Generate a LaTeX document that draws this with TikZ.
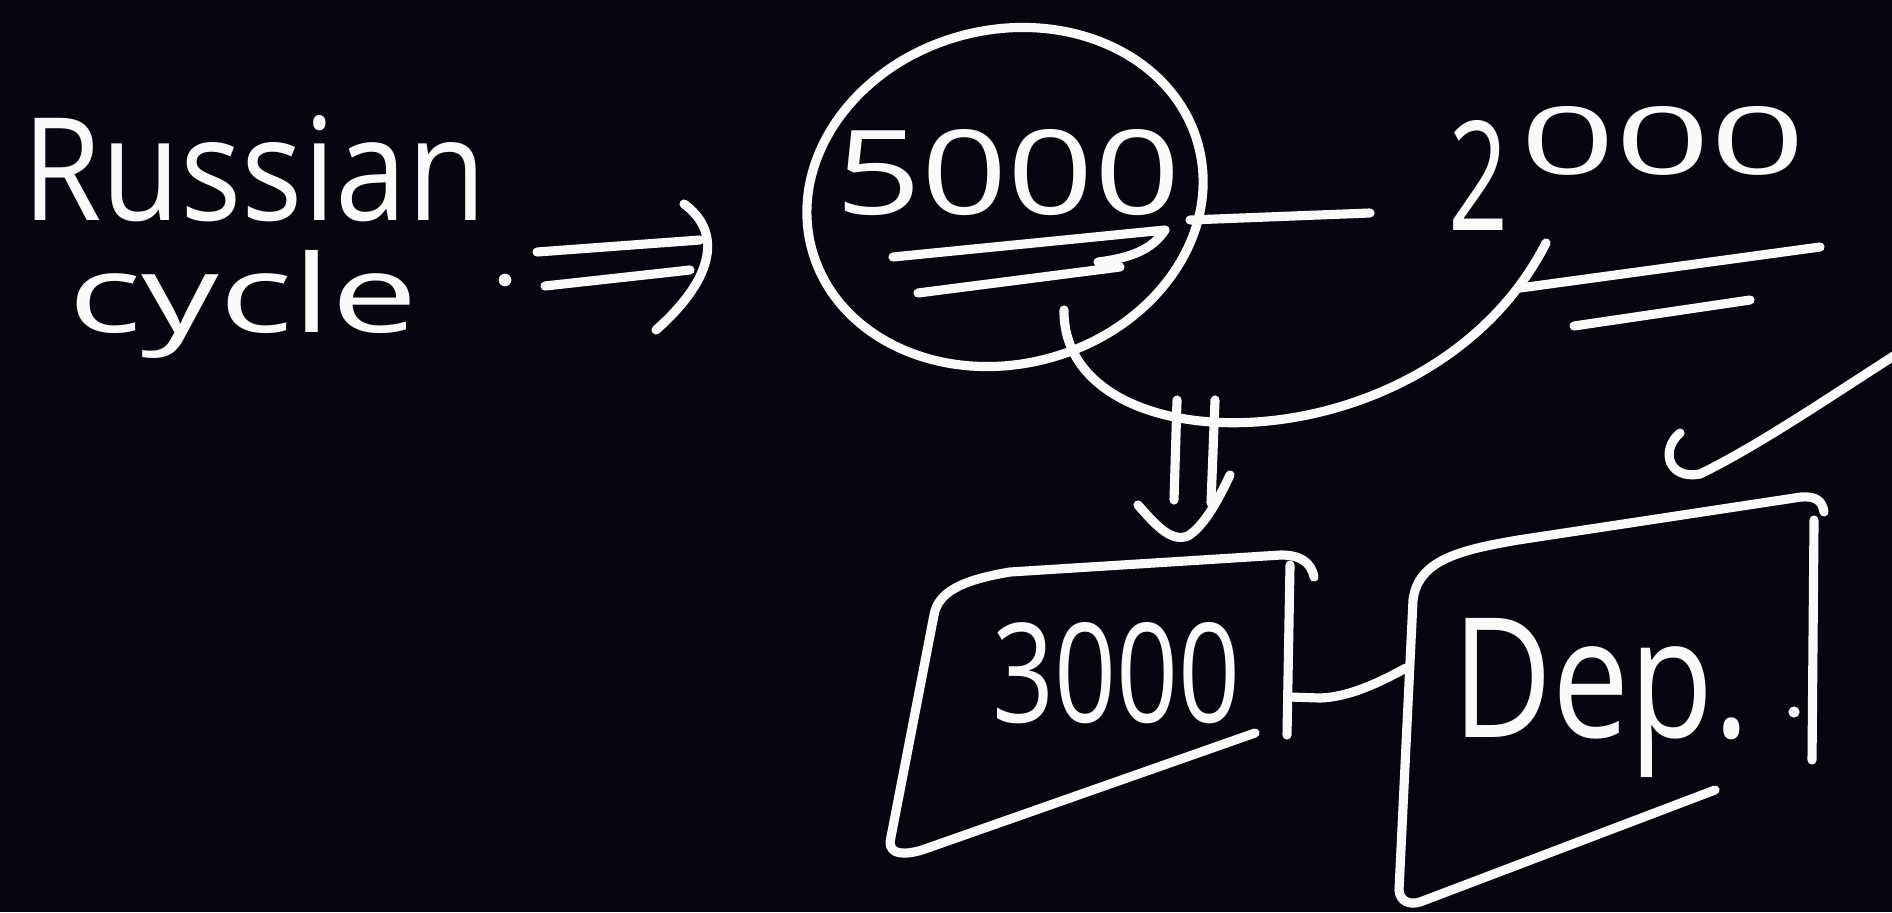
\documentclass[tikz,border=0pt]{standalone}
\usepackage{fontspec}
\usepackage{graphicx}
\setmainfont{Open Sans}
\definecolor{board}{RGB}{6,6,16}
\definecolor{chalk}{RGB}{250,250,250}
\tikzset{
  pen/.style={draw=chalk, line width=2.6pt, line cap=round, line join=round},
  hand/.style={text=chalk, inner sep=0pt, outer sep=0pt, anchor=base west},
}
% handwritten word: fixed width and height above the baseline
\newcommand{\hw}[3]{\resizebox{#1}{#2}{#3}}
\begin{document}
\begin{tikzpicture}[x=0.01cm, y=-0.01cm]
\fill[board] (0,0) rectangle (1892,912);
\useasboundingbox (0,0) rectangle (1892,912);

% ---- heading ----
\node[hand] (russian) at (22,220) {\hw{4.64cm}{1.05cm}{Russian}};
\node[hand] (cycle) at (68,332) {\hw{3.5cm}{0.82cm}{cycle}};
\fill[chalk] (505,280) circle (1.8pt);

% ---- implies arrow ----
\draw[pen] (537,252) -- (700,240);
\draw[pen] (545,286) -- (690,270);
\draw[pen] (684,204) .. controls (720,230) and (718,275) .. (656,330);

% ---- circled amount ----
\draw[pen] (1005,197) ellipse [x radius=2.0cm, y radius=1.67cm, rotate=15];
\node[hand] (n5000) at (835,214) {\hw{3.45cm}{0.85cm}{5000}};
\draw[pen] (893,257) -- (1165,230) .. controls (1152,250) and (1130,258) .. (1098,262);
\draw[pen] (918,293) -- (1120,267);

% ---- 2000 ----
\node[hand] (n2000) at (1448,230)
  {\hw{0.6cm}{1.1cm}{2}\hspace{0.12cm}\raisebox{0.55cm}{\hw{2.85cm}{0.68cm}{000}}};
\draw[pen] (1520,288) -- (1820,247);
\draw[pen] (1574,326) -- (1750,300);

% link from the circle to 2000
\coordinate (cR) at (1190,220);
\coordinate (tL) at (1370,213);
\draw[pen] (cR) -- (tL);

% arc below the circle up to the 2000 underline
\coordinate (arcS) at (1064,310);
\coordinate (arcE) at (1546,243);
\draw[pen] (arcS) .. controls (1062,470) and (1430,470) .. (arcE);

% ---- double arrow down ----
\draw[pen] (1177,400) -- (1174,500);
\draw[pen] (1215,400) -- (1211,503);
\draw[pen] (1138,505) .. controls (1158,528) and (1172,542) .. (1188,536)
  .. controls (1205,525) and (1218,500) .. (1230,475);

% ---- box 3000 ----
\draw[pen] (1314,577) .. controls (1311,562) and (1300,555) .. (1281,555)
  -- (1010,572) .. controls (962,580) and (938,592) .. (934,615)
  -- (890,842) .. controls (890,855) and (905,855) .. (922,850)
  -- (1255,733);
\draw[pen] (1290,565) -- (1287,735);
\node[hand] (n3000) at (992,722) {\hw{2.48cm}{1.0cm}{3000}};

% link between the two boxes
\coordinate (b3R) at (1289,697);
\coordinate (bdL) at (1406,668);
\draw[pen] (b3R) -- (1320,698) .. controls (1350,697) and (1380,682) .. (bdL);

% ---- box Dep. ----
\draw[pen] (1824,512) .. controls (1822,500) and (1815,496) .. (1801,497)
  -- (1518,540) .. controls (1460,550) and (1418,560) .. (1413,600)
  -- (1399,890) .. controls (1400,902) and (1410,905) .. (1420,902)
  -- (1715,790);
\draw[pen] (1814,520) -- (1812,760);
\node[hand] (dep) at (1452,737) {\hw{2.98cm}{1.19cm}{Dep.}};
\fill[chalk] (1794,712) circle (1.6pt);

% ---- tick ----
\draw[pen] (1680,433) .. controls (1660,450) and (1668,480) .. (1700,474)
  .. controls (1760,445) and (1840,390) .. (1900,352);
\end{tikzpicture}
\end{document}
